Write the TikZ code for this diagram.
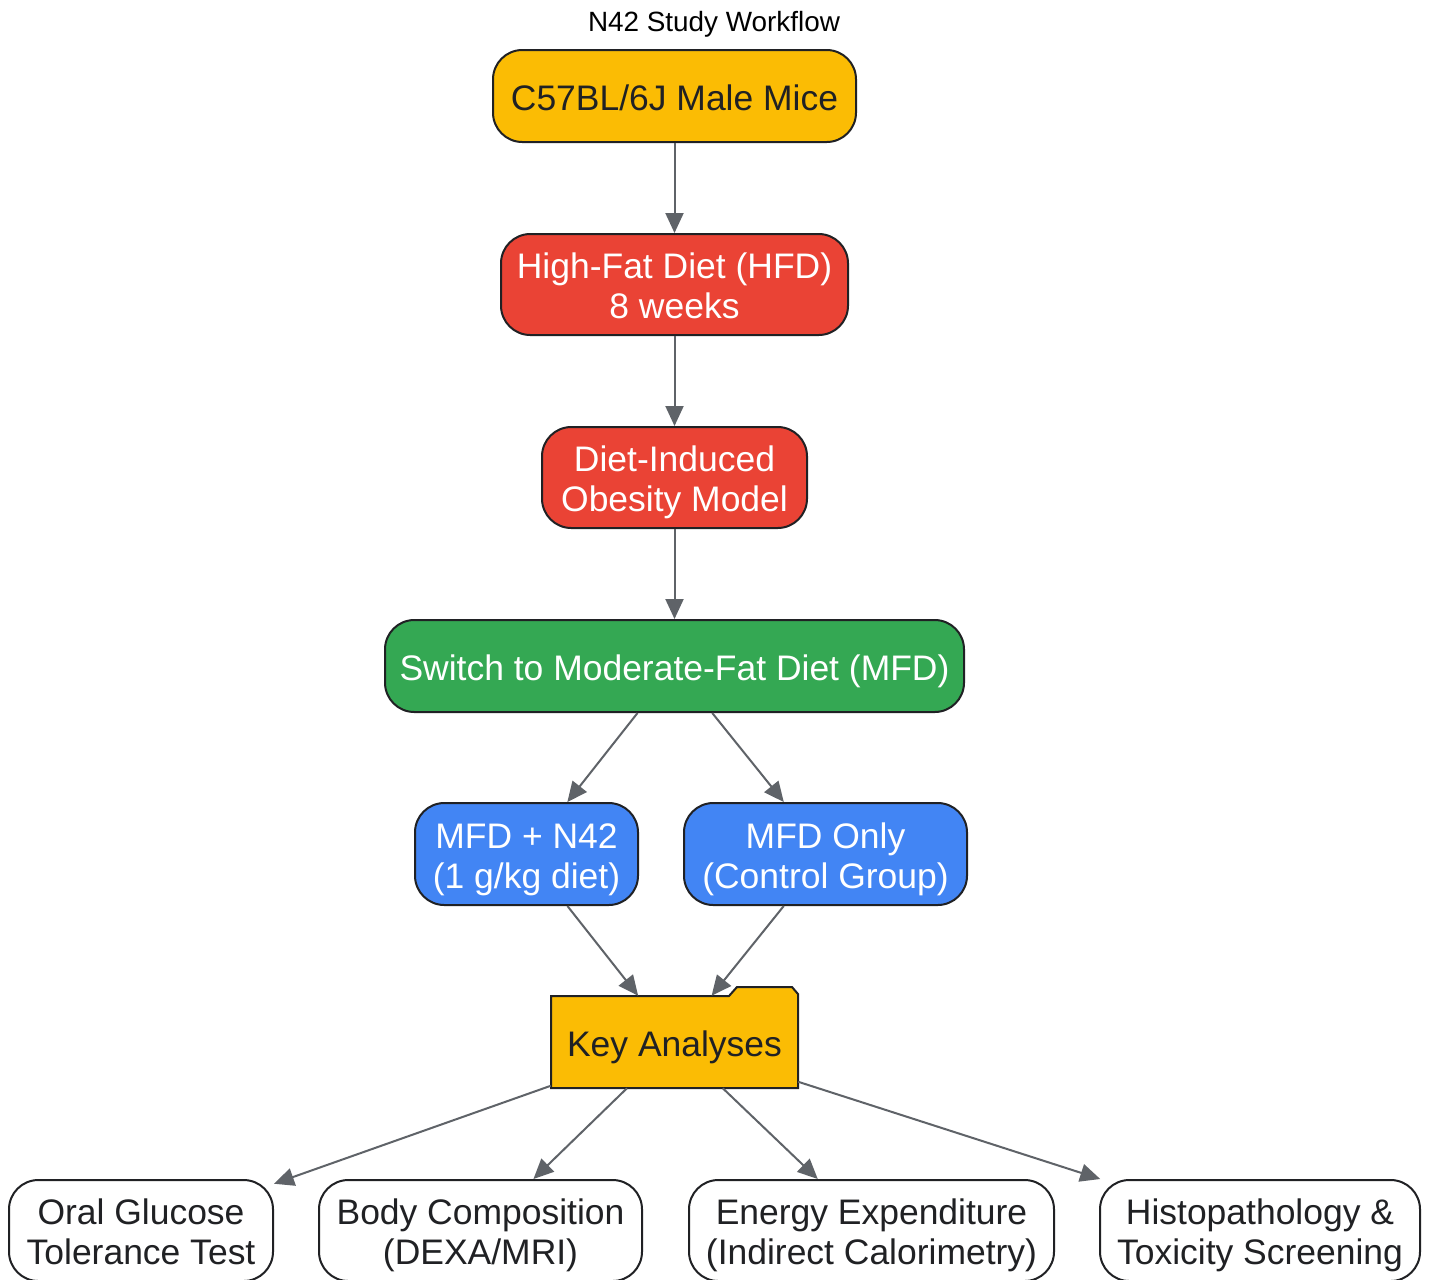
\documentclass[tikz,border=0pt]{standalone}
\usepackage{fontspec}
\setmainfont{Liberation Sans}
\usetikzlibrary{arrows.meta}
\definecolor{gy}{HTML}{FBBC04}
\definecolor{rd}{HTML}{EA4335}
\definecolor{gn}{HTML}{34A853}
\definecolor{bl}{HTML}{4285F4}
\definecolor{dk}{HTML}{202124}
\definecolor{ar}{HTML}{5F6368}
\newcommand\stt{\rule[-0.212em]{0pt}{1.23em}}
\newcommand\std{\rule[-0.212em]{0pt}{0.212em}}
\begin{document}
\begin{tikzpicture}[x=0.75pt,y=-0.75pt,
  sz/.style 2 args={minimum width={#1*0.75pt}, minimum height={#2*0.75pt}},
  txt/.style={font=\fontsize{26.6pt}{30pt}\selectfont, align=center, inner sep=0pt},
  box/.style={txt, draw=dk, line width=1.5pt, rounded corners=22pt},
  arr/.style={draw=ar, line width=1.5pt, -{Triangle[length=15pt,width=13.5pt]}}]
\useasboundingbox[fill=white] (0,0) rectangle (1430,1279);
\node[font=\fontsize{20.9pt}{24pt}\selectfont, text=black] (title) at (714,24) {N42 Study Workflow};
\node[box, fill=gy, text=dk, sz={363}{92}] (mice) at (674.5,96) {\stt C57BL/6J Male Mice};
\node[box, fill=rd, text=white, sz={347}{101}] (hfd) at (674.5,284.5) {\stt High-Fat Diet (HFD)\\\std 8 weeks};
\node[box, fill=rd, text=white, sz={265}{101}] (dio) at (674.5,477.5) {\stt Diet-Induced\\\std Obesity Model};
\node[box, fill=gn, text=white, sz={579}{92}] (mfd) at (674.5,666) {\stt Switch to Moderate-Fat Diet (MFD)};
\node[box, fill=bl, text=white, sz={223}{102}] (n42) at (526.5,854) {\stt MFD + N42\\\std (1 g/kg diet)};
\node[box, fill=bl, text=white, sz={283}{102}] (ctl) at (825.5,854) {\stt MFD Only\\\std (Control Group)};
\draw[fill=gy, draw=dk, line width=1.5pt] (551,996) -- (729,996) -- (737,987) -- (792,987) -- (798,994) -- (798,1088) -- (551,1088) -- cycle;
\node[txt, text=dk, sz={247}{92}] (key) at (674.5,1042) {\stt Key Analyses};
\node[box, fill=white, text=dk, sz={264}{101}] (ogtt) at (141,1230.5) {\stt Oral Glucose\\\std Tolerance Test};
\node[box, fill=white, text=dk, sz={323}{101}] (body) at (480.5,1230.5) {\stt Body Composition\\\std (DEXA/MRI)};
\node[box, fill=white, text=dk, sz={365}{101}] (ee) at (871.5,1230.5) {\stt Energy Expenditure\\\std (Indirect Calorimetry)};
\node[box, fill=white, text=dk, sz={320}{101}] (histo) at (1260,1230.5) {\stt Histopathology \&\\\std Toxicity Screening};
\draw[arr] (mice) -- (hfd);
\draw[arr] (hfd) -- (dio);
\draw[arr] (dio) -- (mfd);
\draw[arr] (mfd) -- (n42);
\draw[arr] (mfd) -- (ctl);
\draw[arr] (n42) -- (key);
\draw[arr] (ctl) -- (key);
\draw[arr] (key) -- (ogtt);
\draw[arr] (key) -- (body);
\draw[arr] (key) -- (ee);
\draw[arr] (key) -- (histo);
\end{tikzpicture}
\end{document}
